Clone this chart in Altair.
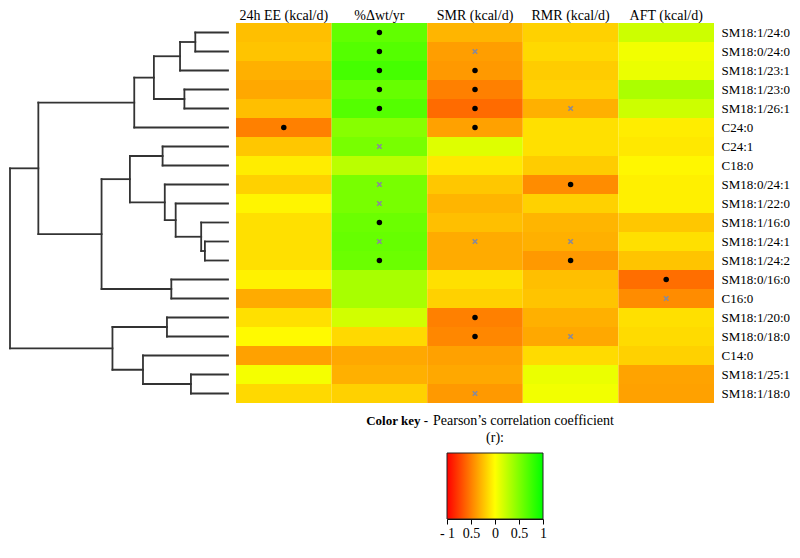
import altair as alt
import pandas as pd

# ---------------- data ----------------
rows = ["SM18:1/24:0", "SM18:0/24:0", "SM18:1/23:1", "SM18:1/23:0", "SM18:1/26:1",
        "C24:0", "C24:1", "C18:0", "SM18:0/24:1", "SM18:1/22:0", "SM18:1/16:0",
        "SM18:1/24:1", "SM18:1/24:2", "SM18:0/16:0", "C16:0", "SM18:1/20:0",
        "SM18:0/18:0", "C14:0", "SM18:1/25:1", "SM18:1/18:0"]
cols = ["24h EE (kcal/d)", "%Δwt/yr", "SMR (kcal/d)", "RMR (kcal/d)", "AFT (kcal/d)"]

r_ee = [-0.25, -0.23, -0.31, -0.34, -0.25, -0.50, -0.22, -0.07, -0.18, -0.04,
        -0.12, -0.12, -0.12, -0.05, -0.33, -0.12, -0.02, -0.37, 0.04, -0.15]
r_wt = [0.62, 0.67, 0.73, 0.60, 0.67, 0.47, 0.53, 0.27, 0.53, 0.53,
        0.58, 0.60, 0.58, 0.34, 0.34, 0.18, -0.15, -0.34, -0.31, -0.18]
r_smr = [-0.29, -0.38, -0.40, -0.50, -0.58, -0.37, 0.13, -0.09, -0.22, -0.29,
         -0.25, -0.33, -0.33, -0.12, -0.18, -0.50, -0.47, -0.37, -0.34, -0.40]
r_rmr = [-0.18, -0.15, -0.20, -0.18, -0.31, -0.12, -0.12, -0.20, -0.45, -0.18,
         -0.29, -0.31, -0.40, -0.25, -0.23, -0.31, -0.34, -0.14, 0.08, 0.05]
r_aft = [0.20, 0.05, 0.08, 0.33, 0.20, -0.07, -0.09, -0.03, -0.06, -0.06,
         -0.22, -0.12, -0.23, -0.57, -0.45, -0.12, -0.14, -0.18, -0.36, -0.37]

# significance markers (row index, column index)
dot_rows = [0, 1, 2, 3, 4, 10, 12, 5, 2, 3, 4, 5, 15, 16, 8, 12, 13]
dot_cols = [1, 1, 1, 1, 1, 1, 1, 0, 2, 2, 2, 2, 2, 2, 3, 3, 4]
cross_rows = [6, 8, 9, 11, 1, 11, 19, 4, 11, 16, 14]
cross_cols = [1, 1, 1, 1, 2, 2, 2, 3, 3, 3, 4]

# dendrogram merges: leaves are 0..19, merge k creates node 20+k
merge_a = [0, 20, 3, 21, 23, 6, 11, 10, 9, 8, 25, 13, 30, 24, 15, 18, 17, 34, 33]
merge_b = [1, 2, 4, 22, 5, 7, 12, 26, 27, 28, 29, 14, 31, 32, 16, 19, 35, 36, 37]
merge_h = [0.15, 0.22, 0.20, 0.34, 0.43, 0.30, 0.106, 0.123, 0.24, 0.29, 0.45,
           0.26, 0.58, 0.87, 0.28, 0.17, 0.39, 0.53, 1.0]

key_ticks = [-1, -0.5, 0, 0.5, 1]

# ---------------- build tables ----------------
series = [r_ee, r_wt, r_smr, r_rmr, r_aft]
heat_df = pd.DataFrame([
    {"row": rows[i], "col": cols[j], "r": series[j][i]}
    for j in range(len(cols)) for i in range(len(rows))
])
dot_df = pd.DataFrame({"row": [rows[i] for i in dot_rows], "col": [cols[j] for j in dot_cols]})
cross_df = pd.DataFrame({"row": [rows[i] for i in cross_rows], "col": [cols[j] for j in cross_cols]})

n_leaves = len(rows)
pos = {i: float(i) for i in range(n_leaves)}
hgt = {i: 0.0 for i in range(n_leaves)}
segs = []
for k, (a, b, h) in enumerate(zip(merge_a, merge_b, merge_h)):
    node = n_leaves + k
    segs.append({"x": h, "x2": h, "y": pos[a], "y2": pos[b]})
    segs.append({"x": hgt[a], "x2": h, "y": pos[a], "y2": pos[a]})
    segs.append({"x": hgt[b], "x2": h, "y": pos[b], "y2": pos[b]})
    pos[node] = (pos[a] + pos[b]) / 2
    hgt[node] = h
seg_df = pd.DataFrame(segs)

FONT = "Liberation Serif"
CELL_H = 19
HEAT_W = 478
HEAT_H = CELL_H * len(rows)

# ---------------- dendrogram ----------------
dendro = alt.Chart(seg_df).mark_rule(color="#333333", strokeWidth=1.8, strokeCap="square").encode(
    x=alt.X("x:Q", scale=alt.Scale(domain=[0, 1.0], reverse=True, nice=False, zero=False), axis=None),
    x2="x2:Q",
    y=alt.Y("y:Q", scale=alt.Scale(domain=[-0.5, len(rows) - 0.5], reverse=True, nice=False, zero=False), axis=None),
    y2="y2:Q",
).properties(width=218, height=HEAT_H)

# ---------------- heatmap ----------------
xenc = alt.X("col:N", sort=cols, scale=alt.Scale(paddingInner=0, paddingOuter=0),
             axis=alt.Axis(orient="top", title=None, labelAngle=0, ticks=False, domain=False,
                           labelFont=FONT, labelFontSize=14, labelPadding=1, labelColor="black"))
yenc = alt.Y("row:N", sort=rows, scale=alt.Scale(paddingInner=0, paddingOuter=0),
             axis=alt.Axis(orient="right", title=None, ticks=False, domain=False,
                           labelFont=FONT, labelFontSize=13, labelPadding=7, labelColor="black"))

cells = alt.Chart(heat_df).mark_rect().encode(
    x=xenc, y=yenc,
    color=alt.Color("r:Q", scale=alt.Scale(domain=[-1, 0, 1], range=["#ff0000", "#ffff00", "#00ff00"],
                                           interpolate="rgb"), legend=None),
)
dots = alt.Chart(dot_df).mark_point(shape="circle", filled=True, color="black", size=30, opacity=1).encode(
    x=alt.X("col:N", sort=cols), y=alt.Y("row:N", sort=rows))
crosses = alt.Chart(cross_df).mark_point(shape="M-1,-1L1,1M1,-1L-1,1", filled=False, color="#8a8a98",
                                         strokeWidth=1.7, size=20, opacity=1).encode(
    x=alt.X("col:N", sort=cols), y=alt.Y("row:N", sort=rows))

heat = alt.layer(cells, dots, crosses).properties(width=HEAT_W, height=HEAT_H)

# ---------------- colour key ----------------
LEG_W = 96
LEG_H = 66
leg_df = pd.DataFrame({"lo": [key_ticks[0]], "hi": [key_ticks[-1]]})
grad = alt.Chart(leg_df).mark_rect(
    color=alt.LinearGradient(gradient="linear",
                             stops=[alt.GradientStop(color="#ff0000", offset=0),
                                    alt.GradientStop(color="#ffff00", offset=0.5),
                                    alt.GradientStop(color="#00ff00", offset=1)],
                             x1=0, x2=1, y1=0, y2=0),
    stroke="#222222", strokeWidth=1,
).encode(
    x=alt.X("lo:Q", scale=alt.Scale(domain=[-1, 1], nice=False, zero=False),
            axis=alt.Axis(values=key_ticks, title=None, grid=False, tickSize=5, tickColor="black",
                          domainColor="black", labelFont=FONT, labelFontSize=14, labelColor="black",
                          labelPadding=2, labelFlush=False, labelOverlap=False,
                          labelExpr="datum.value == -1 ? '- 1' : (datum.value == 0 ? '0' : "
                                    "(abs(datum.value) == 0.5 ? '0.5' : '1'))")),
    x2="hi:Q",
    y=alt.value(0),
    y2=alt.value(LEG_H),
)
t_bold = alt.Chart(leg_df).mark_text(text="Color key -", font=FONT, fontSize=13, fontWeight="bold",
                                     align="right", baseline="middle", color="black").encode(
    x=alt.value(-19), y=alt.value(-32))
t_norm = alt.Chart(leg_df).mark_text(text="Pearson’s correlation coefficient", font=FONT, fontSize=14,
                                     align="left", baseline="middle", color="black").encode(
    x=alt.value(-14), y=alt.value(-32))
t_r = alt.Chart(leg_df).mark_text(text="(r):", font=FONT, fontSize=14, align="center",
                                  baseline="middle", color="black").encode(
    x=alt.value(LEG_W / 2), y=alt.value(-15))
key = alt.layer(grad, t_bold, t_norm, t_r).properties(width=LEG_W, height=LEG_H)

spacer_df = pd.DataFrame({"v": [0]})
spacer = alt.Chart(spacer_df).mark_point(opacity=0).encode(
    x=alt.X("v:Q", axis=None), y=alt.Y("v:Q", axis=None)).properties(width=437, height=10)

top = alt.hconcat(dendro, heat, spacing=8, bounds="flush")
bottom = alt.hconcat(spacer, key, spacing=0, bounds="flush")
chart = alt.vconcat(top, bottom, spacing=11, bounds="full").properties(padding=0).configure_view(stroke=None)

chart.save("out.html", embed_options={"renderer": "svg", "actions": False})
